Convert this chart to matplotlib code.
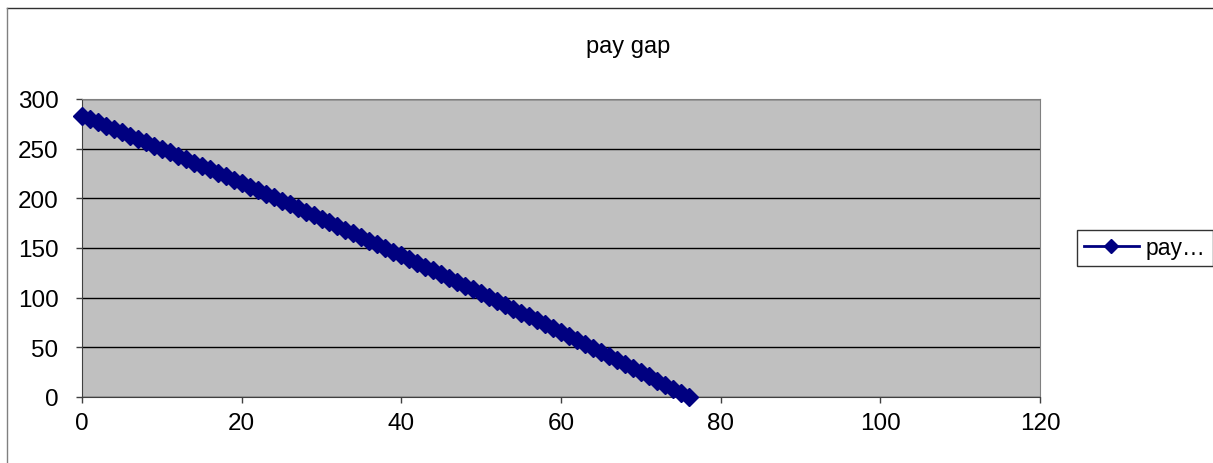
import matplotlib.pyplot as plt
from matplotlib.lines import Line2D

plt.rcParams['font.family'] = ['Liberation Sans', 'DejaVu Sans']

# pay gap per period
periods = list(range(77))
pay_gap = [
    283.0, 279.7, 276.4, 273.1, 269.8, 266.5, 263.1, 259.8, 256.4, 253.0,
    249.7, 246.3, 242.8, 239.4, 236.0, 232.5, 229.1, 225.6, 222.1, 218.6,
    215.1, 211.6, 208.1, 204.5, 201.0, 197.4, 193.8, 190.3, 186.7, 183.0,
    179.4, 175.8, 172.1, 168.5, 164.8, 161.1, 157.4, 153.7, 150.0, 146.3,
    142.5, 138.8, 135.0, 131.2, 127.5, 123.7, 119.8, 116.0, 112.2, 108.3,
    104.5, 100.6, 96.7, 92.8, 88.9, 85.0, 81.1, 77.1, 73.2, 69.2,
    65.2, 61.2, 57.2, 53.2, 49.2, 45.2, 41.1, 37.1, 33.0, 28.9,
    24.8, 20.7, 16.6, 12.5, 8.3, 4.2, 0.0,
]
x_ticks = [0, 20, 40, 60, 80, 100, 120]
y_ticks = [0, 50, 100, 150, 200, 250, 300]

W, H = 1213, 464
fig = plt.figure(figsize=(W / 100, H / 100), dpi=100)
ax = fig.add_axes([82 / W, 1 - 398 / H, (1040 - 82) / W, (398 - 100) / H])
ax.set_facecolor('#c0c0c0')

ax.plot(periods, pay_gap, color='#000080', lw=2.5, marker='D', ms=9,
        mec='#000080', mfc='#000080', clip_on=False, zorder=3)

ax.set_xlim(0, 120)
ax.set_ylim(0, 300)
ax.set_xticks(x_ticks)
ax.set_yticks(y_ticks)
ax.tick_params(labelsize=17.5, length=4, width=1, direction='out',
               color='#404040')
ax.tick_params(axis='y', pad=13)
ax.tick_params(axis='x', pad=7)
ax.grid(axis='y', color='#000000', lw=1)
ax.set_axisbelow(True)
for side in ('top', 'right'):
    ax.spines[side].set_color('#808080')
for side in ('left', 'bottom'):
    ax.spines[side].set_color('#404040')

fig.text(628 / W, 1 - 47 / H, 'pay gap', ha='center', va='center',
         fontsize=17)

# chart area frame (top and left edges only inside the canvas)
fig.add_artist(Line2D([7 / W, 1], [1 - 9 / H, 1 - 9 / H],
                      color='#303030', lw=1))
fig.add_artist(Line2D([7 / W, 7 / W], [0, 1 - 9 / H],
                      color='#808080', lw=1))

handle = Line2D([], [], color='#000080', lw=2, marker='D', ms=7)
fig.legend([handle], ['pay…'], loc='center left',
           bbox_to_anchor=(1077 / W, 1 - 249 / H), fontsize=16.5,
           frameon=True, fancybox=False, edgecolor='#000000',
           handlelength=2.4, handletextpad=0.3, borderpad=0.3,
           borderaxespad=0)

fig.savefig('out.png', dpi=100)
